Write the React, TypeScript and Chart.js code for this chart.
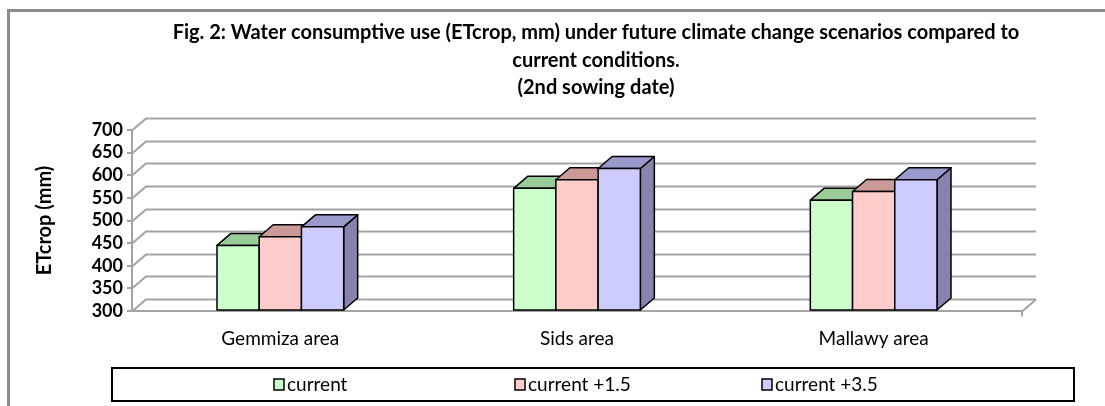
import React, { useEffect, useRef } from "react";
import { Chart, registerables } from "chart.js";

Chart.register(...registerables);

const categories = ["Gemmiza area", "Sids area", "Mallawy area"];
const seriesLabels = ["current", "current +1.5", "current +3.5"];
const currentValues = [445, 571, 545];
const plus15Values = [464, 590, 564];
const plus35Values = [486, 615, 590];
const yMin = 300;
const yMax = 700;
const yStep = 50;
const titleLines = [
  "Fig. 2: Water consumptive use (ETcrop, mm) under future climate change scenarios compared to",
  "current conditions.",
  "(2nd sowing date)",
];
const yAxisTitle = "ETcrop (mm)";

const FRONT = ["#CCFFCC", "#FFCCCC", "#CCCCFF"];
const TOP = ["#99CC99", "#CC9999", "#9999CC"];
const SIDE = ["#7FA67F", "#A67F7F", "#8484AC"];
const FONT = 'Lato, "Open Sans", sans-serif';
const DX = 14;
const DY = -12;
const GRID = "#a3a3a3";

const threeD = {
  id: "threeD",
  beforeDraw(chart: any) {
    const ctx = chart.ctx;
    ctx.save();
    ctx.fillStyle = "#ffffff";
    ctx.fillRect(0, 0, chart.width, chart.height);
    ctx.strokeStyle = "#8c8c8c";
    ctx.lineWidth = 3;
    ctx.beginPath();
    ctx.moveTo(8.5, chart.height + 2);
    ctx.lineTo(8.5, 10.5);
    ctx.lineTo(chart.width + 2, 10.5);
    ctx.stroke();
    ctx.restore();
  },
  beforeDatasetsDraw(chart: any) {
    const ctx = chart.ctx;
    const { left, right } = chart.chartArea;
    const ys = chart.scales.y;
    ctx.save();
    ctx.strokeStyle = GRID;
    ctx.lineWidth = 2;
    for (let v = yMin; v <= yMax; v += yStep) {
      const y = Math.round(ys.getPixelForValue(v)) + 0.5;
      ctx.beginPath();
      ctx.moveTo(left, y);
      ctx.lineTo(left + DX, y + DY);
      ctx.lineTo(right + DX, y + DY);
      ctx.stroke();
    }
    const yb = Math.round(ys.getPixelForValue(yMin)) + 0.5;
    ctx.beginPath();
    ctx.moveTo(right, yb + 5);
    ctx.lineTo(right, yb);
    ctx.lineTo(right + DX, yb + DY);
    ctx.stroke();
    ctx.restore();
  },
  afterDatasetsDraw(chart: any) {
    const ctx = chart.ctx;
    ctx.save();
    ctx.strokeStyle = "#000";
    ctx.lineWidth = 1.5;
    ctx.lineJoin = "round";
    const n = chart.data.labels.length;
    for (let j = 0; j < n; j++) {
      chart.data.datasets.forEach((ds: any, i: number) => {
        const bar = chart.getDatasetMeta(i).data[j];
        const { x, y, base, width } = bar.getProps(["x", "y", "base", "width"], true);
        const x0 = x - width / 2;
        const x1 = x + width / 2;
        ctx.fillStyle = SIDE[i];
        ctx.beginPath();
        ctx.moveTo(x1, y);
        ctx.lineTo(x1 + DX, y + DY);
        ctx.lineTo(x1 + DX, base + DY);
        ctx.lineTo(x1, base);
        ctx.closePath();
        ctx.fill();
        ctx.stroke();
        ctx.fillStyle = TOP[i];
        ctx.beginPath();
        ctx.moveTo(x0, y);
        ctx.lineTo(x0 + DX, y + DY);
        ctx.lineTo(x1 + DX, y + DY);
        ctx.lineTo(x1, y);
        ctx.closePath();
        ctx.fill();
        ctx.stroke();
        ctx.fillStyle = FRONT[i];
        ctx.fillRect(x0, y, width, base - y);
        ctx.strokeRect(x0, y, width, base - y);
      });
    }
    ctx.restore();
  },
  afterDraw(chart: any) {
    const ctx = chart.ctx;
    ctx.save();
    ctx.fillStyle = "#000";
    ctx.textAlign = "center";
    ctx.textBaseline = "middle";
    ctx.font = `bold 20px ${FONT}`;
    const tY = [33, 61, 88];
    titleLines.forEach((t, k) => ctx.fillText(t, 596, tY[k]));
    ctx.strokeStyle = "#000";
    ctx.lineWidth = 2;
    ctx.strokeRect(112, 368, 962, 33);
    const lx = [274, 515, 762];
    ctx.font = `19px ${FONT}`;
    ctx.textAlign = "left";
    chart.data.datasets.forEach((ds: any, i: number) => {
      ctx.fillStyle = FRONT[i];
      ctx.fillRect(lx[i], 379, 10, 11);
      ctx.lineWidth = 1.5;
      ctx.strokeRect(lx[i], 379, 10, 11);
      ctx.fillStyle = "#000";
      ctx.fillText(ds.label, lx[i] + 13, 385);
    });
    ctx.restore();
  },
};

export default function App() {
  const ref = useRef<HTMLCanvasElement>(null);
  useEffect(() => {
    if (!ref.current) return;
    const series = [currentValues, plus15Values, plus35Values];
    const chart = new Chart(ref.current, {
      type: "bar",
      data: {
        labels: categories,
        datasets: series.map((d, i) => ({
          label: seriesLabels[i],
          data: d,
          base: yMin,
          backgroundColor: FRONT[i],
          borderColor: "#000",
          borderWidth: 1.5,
          barPercentage: 1,
          categoryPercentage: 0.427,
        })),
      },
      options: {
        responsive: false,
        animation: false,
        layout: { padding: { left: 0, right: 83, top: 130, bottom: 0 } },
        plugins: {
          legend: { display: false },
          title: { display: false },
          tooltip: { enabled: false },
        },
        scales: {
          x: {
            grid: { display: false },
            border: { display: true, color: GRID, width: 2 },
            ticks: { color: "#000", font: { family: FONT, size: 19 }, padding: 8 },
            afterFit: (s: any) => {
              s.height = 95;
            },
          },
          y: {
            min: yMin,
            max: yMax,
            ticks: {
              stepSize: yStep,
              autoSkip: false,
              color: "#000",
              font: { family: FONT, size: 18, weight: "bold" },
              padding: 4,
            },
            grid: {
              display: true,
              drawOnChartArea: false,
              drawTicks: true,
              tickLength: 5,
              color: GRID,
              lineWidth: 2,
            },
            border: { display: true, color: GRID, width: 2 },
            title: {
              display: true,
              text: yAxisTitle,
              color: "#000",
              font: { family: FONT, size: 20, weight: "bold" },
              padding: { top: 33, bottom: 0 },
            },
            afterFit: (s: any) => {
              s.width = 132;
            },
          },
        },
      },
      plugins: [threeD],
    });
    return () => chart.destroy();
  }, []);
  return (
    <div style={{ position: "fixed", left: 0, top: 0, width: 1105, height: 406 }}>
      <canvas ref={ref} width={1105} height={406} />
    </div>
  );
}
